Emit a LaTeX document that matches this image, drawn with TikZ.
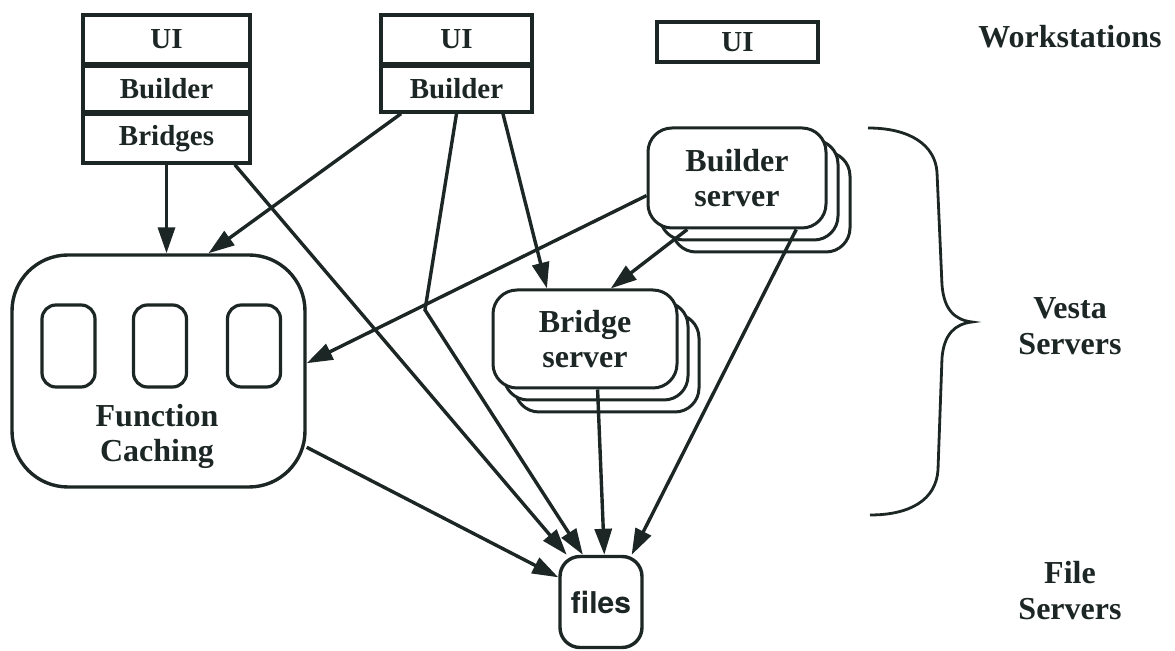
\documentclass[tikz,border=0pt]{standalone}
\usepackage{fontspec}
\setmainfont{Liberation Serif}
\setsansfont{TeX Gyre Heros}
\usetikzlibrary{arrows.meta}
\definecolor{ink}{RGB}{28,38,36}
\tikzset{
  layer/.style={draw=ink,line width=1.7pt,minimum width=83.5pt,inner sep=0pt,text=ink,
    font=\fontsize{14.5}{16}\selectfont\bfseries},
  server/.style={draw=ink,fill=white,line width=1.5pt,rounded corners=12pt,minimum width=89pt,
    minimum height=50pt,inner sep=0pt,align=center,text=ink,font=\fontsize{16}{17.5}\selectfont\bfseries},
  cell/.style={draw=ink,line width=1.6pt,rounded corners=7pt,minimum width=26.5pt,minimum height=41pt,inner sep=0pt},
  tier/.style={align=center,text=ink,font=\fontsize{16}{18}\selectfont\bfseries},
  link/.style={draw=ink,line width=1.7pt,-{Triangle[length=13pt,width=8.5pt]}},
}
\begin{document}
\begin{tikzpicture}
\pgfsetxvec{\pgfpoint{0.5pt}{0}}
\pgfsetyvec{\pgfpoint{0}{-0.5pt}}
  \useasboundingbox (0,0) rectangle (1175,651);
  \node[layer,minimum height=24.5pt] (ui1) at (166.5,39.5) {UI};
  \node[layer,minimum height=23pt] (bld1) at (166.5,89) {Builder};
  \node[layer,minimum height=24.5pt] (brg1) at (166.5,138.5) {Bridges};
  \node[layer,minimum width=75.5pt,minimum height=24.5pt] (ui2) at (456.5,39.5) {UI};
  \node[layer,minimum width=75.5pt,minimum height=23pt] (bld2) at (456.5,89) {Builder};
  \node[layer,minimum width=80.5pt,minimum height=20pt] (ui3) at (737.5,42) {UI};
  \node[server] (bs3) at (761,202) {};
  \node[server] (bs2) at (749,190) {};
  \node[server] (bs) at (737,178) {Builder\\server};
  \node[server,minimum width=92pt,minimum height=49pt] (bsv3) at (607,363) {};
  \node[server,minimum width=92pt,minimum height=49pt] (bsv2) at (596,351) {};
  \node[server,minimum width=92pt,minimum height=49pt] (bsv) at (585,339) {Bridge\\server};
  \node[draw=ink,line width=1.7pt,rounded corners=28pt,minimum width=146.5pt,minimum height=116pt] (fc) at (158.5,371) {};
  \node[cell] (c1) at (68.5,346) {};
  \node[cell] (c2) at (160,346) {};
  \node[cell] (c3) at (254,346) {};
  \node[align=center,text=ink,font=\fontsize{16}{17.5}\selectfont\bfseries] (fctext) at (157,436) {Function\\Caching};
  \node[draw=ink,line width=1.7pt,rounded corners=10pt,minimum width=41pt,minimum height=45.5pt,inner sep=0pt,
    text=ink,font=\fontsize{15}{17}\selectfont\sffamily\bfseries] (files) at (601,602) {files};
  \node[tier] (ws) at (1070,37) {Workstations};
  \node[tier] (vs) at (1070,326) {Vesta\\Servers};
  \node[tier] (fs) at (1070,591) {File\\Servers};
  \coordinate (kink) at (425,310);
  \draw[link] (brg1) -- (brg1 |- fc.north);
  \draw[link] (brg1.339) -- (files.126);
  \draw[link] (bld2.204) -- (fc.67);
  \draw[link] (bld2.south) -- (kink) -- (files.111);
  \draw[link] (bld2.332) -- (bsv.127);
  \draw[link] (bs.191) -- (fc.3);
  \draw[link] (bs.226) -- (bsv.63);
  \draw[link] (bs.319) -- (files.57);
  \draw[link] (bsv.284) -- (files.86);
  \draw[link] (fc) -- (files.150);
  \draw[ink,line width=1.4pt] (868,128) .. controls (910,128) and (935,145) .. (937,172) -- (942,285)
    .. controls (944,310) and (955,320) .. (972,322) .. controls (955,324) and (944,334) .. (942,358)
    -- (938,470) .. controls (936,500) and (910,515) .. (870,515);
\end{tikzpicture}
\end{document}
